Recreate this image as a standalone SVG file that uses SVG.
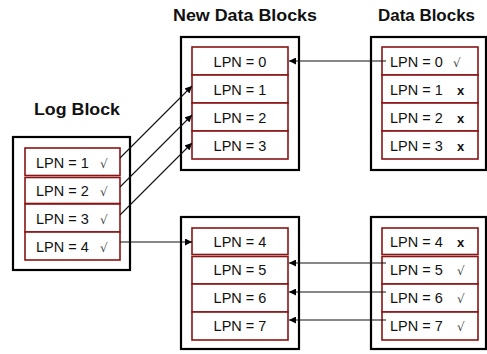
<svg xmlns="http://www.w3.org/2000/svg" width="487" height="354" viewBox="0 0 487 354">
  <style>
    .title { font-family: "Liberation Sans", Arial, sans-serif; font-weight: bold; font-size: 16.5px; fill: #111; text-anchor: middle; }
    .block { fill: #fff; stroke: #000; stroke-width: 2.2; }
    .cell { fill: #fff; stroke: #8b1414; stroke-width: 1.6; }
    .lbl { font-family: "Liberation Sans", Arial, sans-serif; font-size: 14.5px; fill: #111; }
    .mid { text-anchor: middle; }
    .ok { font-family: "DejaVu Sans", "Liberation Sans", sans-serif; font-size: 12px; fill: #444; }
    .bad { font-weight: bold; font-size: 13px; }
    .conn { stroke: #111; stroke-width: 1.1; fill: none; }
  </style>
  <defs>
    <marker id="arrow" viewBox="0 0 10 10" refX="10" refY="5" markerWidth="8" markerHeight="7" markerUnits="userSpaceOnUse" orient="auto">
      <path d="M0,0 L10,5 L0,10 Z" fill="#000"/>
    </marker>
  </defs>

  <rect width="487" height="354" fill="#fff"/>

  <!-- Titles -->
  <text class="title" x="77" y="115" textLength="86" lengthAdjust="spacingAndGlyphs">Log Block</text>
  <text class="title" x="245" y="21" textLength="144" lengthAdjust="spacingAndGlyphs">New Data Blocks</text>
  <text class="title" x="426.5" y="21" textLength="97" lengthAdjust="spacingAndGlyphs">Data Blocks</text>

  <!-- Log block -->
  <g id="log-block">
    <rect class="block" x="13" y="137" width="117" height="133"/>
    <rect class="cell" x="25" y="148" width="95" height="27.5"/>
    <rect class="cell" x="25" y="177.5" width="95" height="26"/>
    <rect class="cell" x="25" y="204" width="95" height="28"/>
    <rect class="cell" x="25" y="232" width="95" height="28"/>
    <text class="lbl" x="36" y="167.5">LPN = 1</text><text class="ok" x="100" y="167.5">√</text>
    <text class="lbl" x="36" y="195.5">LPN = 2</text><text class="ok" x="100" y="195.5">√</text>
    <text class="lbl" x="36" y="223.5">LPN = 3</text><text class="ok" x="100" y="223.5">√</text>
    <text class="lbl" x="36" y="251.5">LPN = 4</text><text class="ok" x="100" y="251.5">√</text>
  </g>

  <!-- New data block (top) -->
  <g id="new-data-block-0">
    <rect class="block" x="181" y="37" width="118" height="133"/>
    <rect class="cell" x="192" y="47" width="96" height="28"/>
    <rect class="cell" x="192" y="75" width="96" height="28"/>
    <rect class="cell" x="192" y="103" width="96" height="28"/>
    <rect class="cell" x="192" y="131" width="96" height="28"/>
    <text class="lbl mid" x="240" y="66.5">LPN = 0</text>
    <text class="lbl mid" x="240" y="94.5">LPN = 1</text>
    <text class="lbl mid" x="240" y="122.5">LPN = 2</text>
    <text class="lbl mid" x="240" y="150.5">LPN = 3</text>
  </g>

  <!-- New data block (bottom) -->
  <g id="new-data-block-1">
    <rect class="block" x="181" y="217" width="118" height="132"/>
    <rect class="cell" x="192" y="228" width="96" height="26.5"/>
    <rect class="cell" x="192" y="256.5" width="96" height="27.5"/>
    <rect class="cell" x="192" y="284" width="96" height="28"/>
    <rect class="cell" x="192" y="312" width="96" height="28"/>
    <text class="lbl mid" x="240" y="246.5">LPN = 4</text>
    <text class="lbl mid" x="240" y="275">LPN = 5</text>
    <text class="lbl mid" x="240" y="303">LPN = 6</text>
    <text class="lbl mid" x="240" y="331">LPN = 7</text>
  </g>

  <!-- Old data block (top) -->
  <g id="data-block-0">
    <rect class="block" x="371" y="37" width="115" height="133"/>
    <rect class="cell" x="382" y="47" width="96" height="28"/>
    <rect class="cell" x="382" y="75" width="96" height="28"/>
    <rect class="cell" x="382" y="103" width="96" height="28"/>
    <rect class="cell" x="382" y="131" width="96" height="28"/>
    <text class="lbl" x="390" y="66.5">LPN = 0</text><text class="ok" x="453" y="66.5">√</text>
    <text class="lbl" x="390" y="94.5">LPN = 1</text><text class="lbl bad" x="457" y="94.5">x</text>
    <text class="lbl" x="390" y="122.5">LPN = 2</text><text class="lbl bad" x="457" y="122.5">x</text>
    <text class="lbl" x="390" y="150.5">LPN = 3</text><text class="lbl bad" x="457" y="150.5">x</text>
  </g>

  <!-- Old data block (bottom) -->
  <g id="data-block-1">
    <rect class="block" x="371" y="217" width="115" height="132"/>
    <rect class="cell" x="382" y="228" width="96" height="26.5"/>
    <rect class="cell" x="382" y="256.5" width="96" height="27.5"/>
    <rect class="cell" x="382" y="284" width="96" height="28"/>
    <rect class="cell" x="382" y="312" width="96" height="28"/>
    <text class="lbl" x="390" y="246.5">LPN = 4</text><text class="lbl bad" x="457" y="246.5">x</text>
    <text class="lbl" x="390" y="275">LPN = 5</text><text class="ok" x="457" y="275">√</text>
    <text class="lbl" x="390" y="303">LPN = 6</text><text class="ok" x="457" y="303">√</text>
    <text class="lbl" x="390" y="331">LPN = 7</text><text class="ok" x="457" y="331">√</text>
  </g>

  <!-- Connectors -->
  <g id="connectors">
    <line class="conn" x1="386" y1="61" x2="289" y2="61" marker-end="url(#arrow)"/>
    <line class="conn" x1="120" y1="158" x2="192" y2="86" marker-end="url(#arrow)"/>
    <line class="conn" x1="120" y1="187" x2="192" y2="115" marker-end="url(#arrow)"/>
    <line class="conn" x1="120" y1="215" x2="192" y2="143" marker-end="url(#arrow)"/>
    <line class="conn" x1="120" y1="242" x2="192" y2="242" marker-end="url(#arrow)"/>
    <line class="conn" x1="386" y1="263" x2="289" y2="263" marker-end="url(#arrow)"/>
    <line class="conn" x1="386" y1="292" x2="289" y2="292" marker-end="url(#arrow)"/>
    <line class="conn" x1="386" y1="320" x2="289" y2="320" marker-end="url(#arrow)"/>
  </g>
</svg>
